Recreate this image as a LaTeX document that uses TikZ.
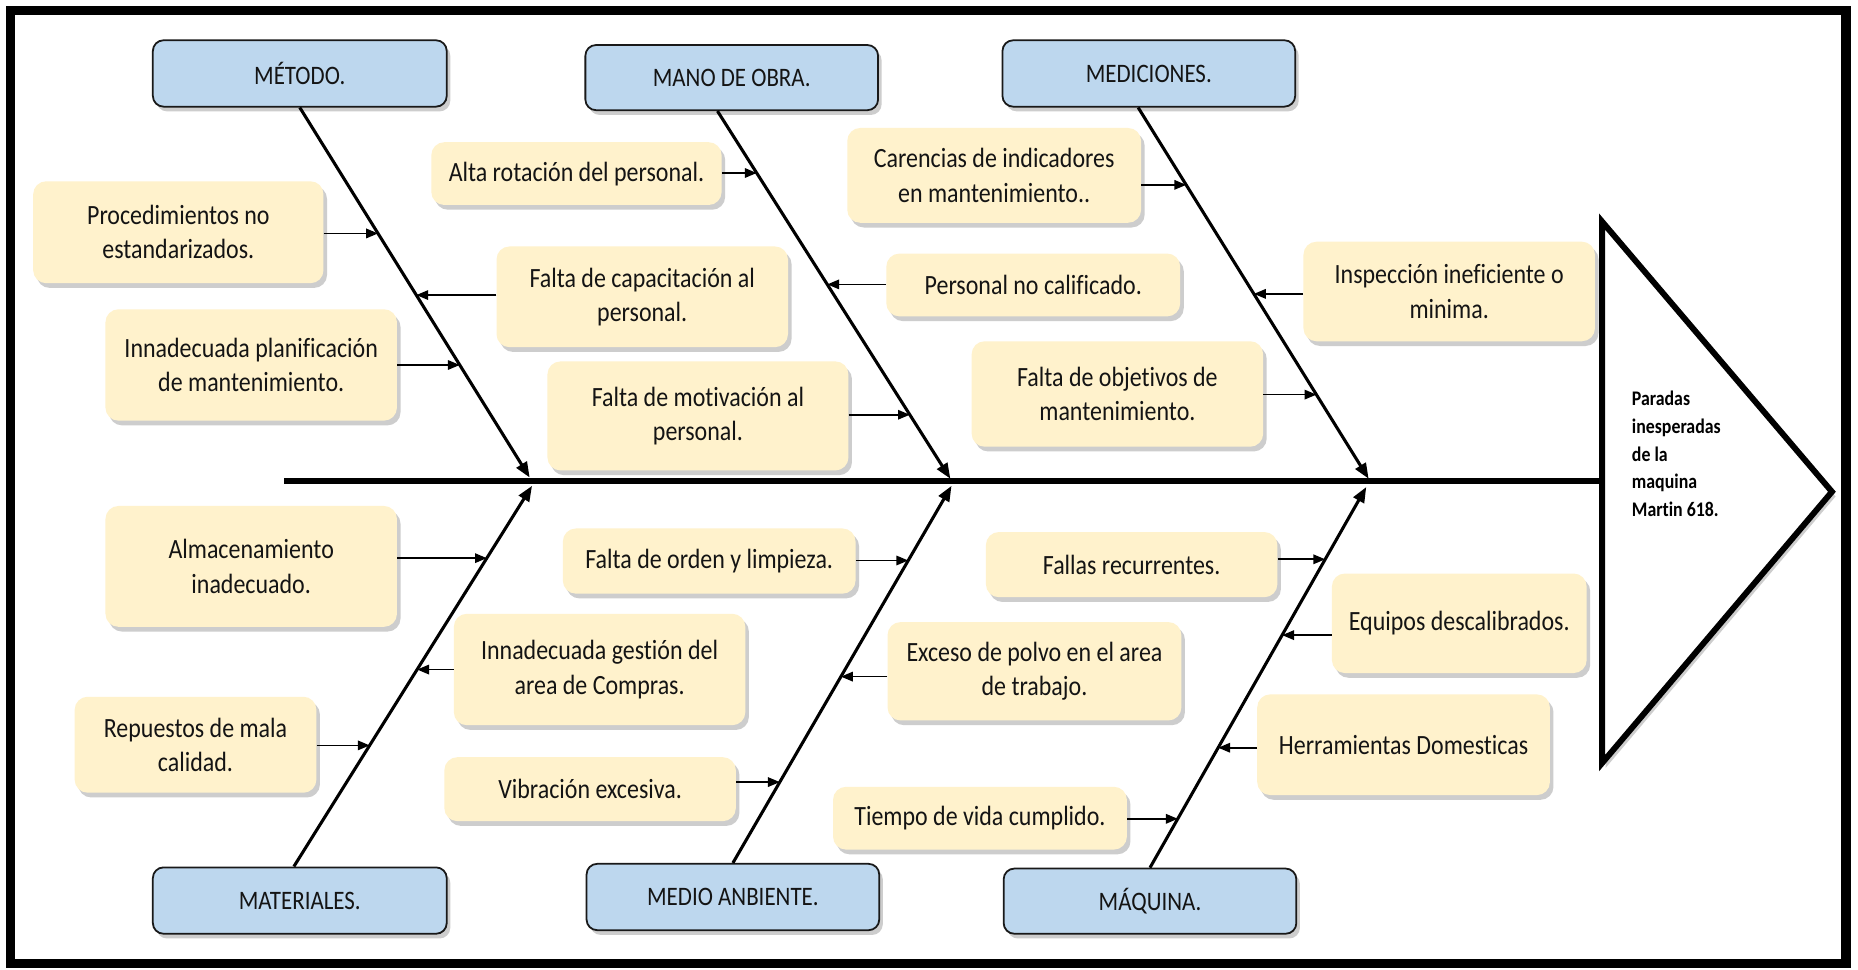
\documentclass[tikz,border=0pt]{standalone}
\usepackage{fontspec}
\setmainfont{Carlito}[FakeStretch=0.86,Ligatures=NoCommon]
\usetikzlibrary{arrows.meta,shadows}
\definecolor{catblue}{HTML}{BDD7EE}
\definecolor{causecream}{HTML}{FFF2CC}
\definecolor{txt}{HTML}{141414}
\tikzset{
  boxshadow/.style={drop shadow={shadow xshift=3pt,shadow yshift=-4pt,opacity=0.28,fill=black!70}},
  catbox/.style={draw=black!90,line width=1.5pt,rounded corners=9pt,fill=catblue,text=txt,
    font=\fontsize{22.5}{27}\selectfont,align=center,inner sep=0pt,boxshadow},
  causebox/.style={rounded corners=11pt,fill=causecream,text=txt,
    font=\fontsize{23.5}{29}\selectfont,align=center,inner sep=0pt,boxshadow},
  bone/.style={line width=2.6pt,-{Triangle[length=13pt,width=10pt]}},
  subarrow/.style={line width=1.4pt,-{Triangle[length=10pt,width=8pt]}},
  spine/.style={line width=5pt},
  headtri/.style={line width=5pt,line join=miter,fill=white,boxshadow},
  headtxt/.style={font=\fontsize{17.5}{23.5}\selectfont\bfseries,align=left,inner sep=0pt,text=black},
  frame/.style={line width=8pt}
}
\begin{document}
\begin{tikzpicture}[x=1pt,y=-1pt]
\useasboundingbox (0,0) rectangle (1568,818);
\fill[white] (0,0) rectangle (1568,818);
\draw[frame] (9,9) rectangle (1558,813);

% head (effect)
\coordinate (hT) at (1352,187);
\coordinate (hA) at (1546,415);
\coordinate (hB) at (1352,644);
\draw[headtri] (hT) -- (hA) -- (hB) -- cycle;
\node[headtxt,anchor=west] (effect) at (1377,383) {Paradas\\inesperadas\\de la\\maquina\\Martin 618.};

% spine
\coordinate (tail) at (240,406);
\coordinate (headL) at (1352,406);
\draw[spine] (tail) -- (headL);

% categories
\node[catbox,minimum width=248,minimum height=56] (metodo) at (253,62) {MÉTODO.};
\node[catbox,minimum width=247,minimum height=55] (mano) at (617.5,65.5) {MANO DE OBRA.};
\node[catbox,minimum width=247,minimum height=56] (medic) at (969.5,62) {MEDICIONES.};
\node[catbox,minimum width=248,minimum height=56] (mater) at (253,760) {MATERIALES.};
\node[catbox,minimum width=247,minimum height=56] (ambiente) at (618.5,757) {MEDIO ANBIENTE.};
\node[catbox,minimum width=247,minimum height=55] (maquina) at (970.5,760.5) {MÁQUINA.};

% bone ends on the spine
\coordinate (mS) at (metodo.south);
\coordinate (mE) at (447,403);
\coordinate (oS) at ([xshift=-12pt]mano.south);
\coordinate (oE) at (802,404);
\coordinate (dS) at ([xshift=-9pt]medic.south);
\coordinate (dE) at (1155,404);
\coordinate (tS) at ([xshift=-5pt]mater.north);
\coordinate (tE) at (449,410);
\coordinate (aS) at (ambiente.north);
\coordinate (aE) at (803,410);
\coordinate (qS) at (maquina.north);
\coordinate (qE) at (1153,411);

\draw[bone] (mS) -- (mE);
\draw[bone] (oS) -- (oE);
\draw[bone] (dS) -- (dE);
\draw[bone] (tS) -- (tE);
\draw[bone] (aS) -- (aE);
\draw[bone] (qS) -- (qE);

% causes
\node[causebox,minimum width=245,minimum height=86] (c1) at (150.5,196) {Procedimientos no\\estandarizados.};
\node[causebox,minimum width=246,minimum height=94] (c2) at (212,308) {Innadecuada planificación\\de mantenimiento.};
\node[causebox,minimum width=246,minimum height=85] (c3) at (542,250.5) {Falta de capacitación al\\personal.};
\node[causebox,minimum width=245,minimum height=53] (c4) at (486.5,146.5) {Alta rotación del personal.};
\node[causebox,minimum width=254,minimum height=92] (c5) at (589,351) {Falta de motivación al\\personal.};
\node[causebox,minimum width=248,minimum height=53] (c6) at (872,240.5) {Personal no calificado.};
\node[causebox,minimum width=248,minimum height=80] (c7) at (839,148) {Carencias de indicadores\\en mantenimiento..};
\node[causebox,minimum width=246,minimum height=89] (c8) at (943,332.5) {Falta de objetivos de\\mantenimiento.};
\node[causebox,minimum width=246,minimum height=84] (c9) at (1223,246) {Inspección ineficiente o\\minima.};
\node[causebox,minimum width=246,minimum height=102] (c10) at (212,478) {Almacenamiento\\inadecuado.};
\node[causebox,minimum width=246,minimum height=94] (c11) at (506,565) {Innadecuada gestión del\\area de Compras.};
\node[causebox,minimum width=204,minimum height=81] (c12) at (165,628.5) {Repuestos de mala\\calidad.};
\node[causebox,minimum width=247,minimum height=55] (c13) at (598.5,473.5) {Falta de orden y limpieza.};
\node[causebox,minimum width=248,minimum height=83] (c14) at (873,566.5) {Exceso de polvo en el area\\de trabajo.};
\node[causebox,minimum width=246,minimum height=54] (c15) at (498,666) {Vibración excesiva.};
\node[causebox,minimum width=246,minimum height=55] (c16) at (955,476.5) {Fallas recurrentes.};
\node[causebox,minimum width=215,minimum height=84] (c17) at (1231.5,526) {Equipos descalibrados.};
\node[causebox,minimum width=247,minimum height=85] (c18) at (1184.5,628.5) {Herramientas Domesticas};
\node[causebox,minimum width=248,minimum height=53] (c19) at (827,690.5) {Tiempo de vida cumplido.};

% arrow targets on the bones
\coordinate (a1) at (intersection of mS--mE and 0,197--10,197);
\coordinate (a2) at (intersection of mS--mE and 0,308--10,308);
\coordinate (a3) at (intersection of mS--mE and 0,249--10,249);
\coordinate (a4) at (intersection of oS--oE and 0,146--10,146);
\coordinate (a5) at (intersection of oS--oE and 0,350--10,350);
\coordinate (a6) at (intersection of oS--oE and 0,240--10,240);
\coordinate (a7) at (intersection of dS--dE and 0,156--10,156);
\coordinate (a8) at (intersection of dS--dE and 0,333--10,333);
\coordinate (a9) at (intersection of dS--dE and 0,248--10,248);
\coordinate (a10) at (intersection of tS--tE and 0,471--10,471);
\coordinate (a11) at (intersection of tS--tE and 0,565--10,565);
\coordinate (a12) at (intersection of tS--tE and 0,629--10,629);
\coordinate (a13) at (intersection of aS--aE and 0,473--10,473);
\coordinate (a14) at (intersection of aS--aE and 0,571--10,571);
\coordinate (a15) at (intersection of aS--aE and 0,660--10,660);
\coordinate (a16) at (intersection of qS--qE and 0,472--10,472);
\coordinate (a17) at (intersection of qS--qE and 0,536--10,536);
\coordinate (a18) at (intersection of qS--qE and 0,631--10,631);
\coordinate (a19) at (intersection of qS--qE and 0,691--10,691);

\draw[subarrow] (c1.east |- a1) -- (a1);
\draw[subarrow] (c2.east |- a2) -- (a2);
\draw[subarrow] (c3.west |- a3) -- (a3);
\draw[subarrow] (c4.east |- a4) -- (a4);
\draw[subarrow] (c5.east |- a5) -- (a5);
\draw[subarrow] (c6.west |- a6) -- (a6);
\draw[subarrow] (c7.east |- a7) -- (a7);
\draw[subarrow] (c8.east |- a8) -- (a8);
\draw[subarrow] (c9.west |- a9) -- (a9);
\draw[subarrow] (c10.east |- a10) -- (a10);
\draw[subarrow] (c11.west |- a11) -- (a11);
\draw[subarrow] (c12.east |- a12) -- (a12);
\draw[subarrow] (c13.east |- a13) -- (a13);
\draw[subarrow] (c14.west |- a14) -- (a14);
\draw[subarrow] (c15.east |- a15) -- (a15);
\draw[subarrow] (c16.east |- a16) -- (a16);
\draw[subarrow] (c17.west |- a17) -- (a17);
\draw[subarrow] (c18.west |- a18) -- (a18);
\draw[subarrow] (c19.east |- a19) -- (a19);
\end{tikzpicture}
\end{document}
